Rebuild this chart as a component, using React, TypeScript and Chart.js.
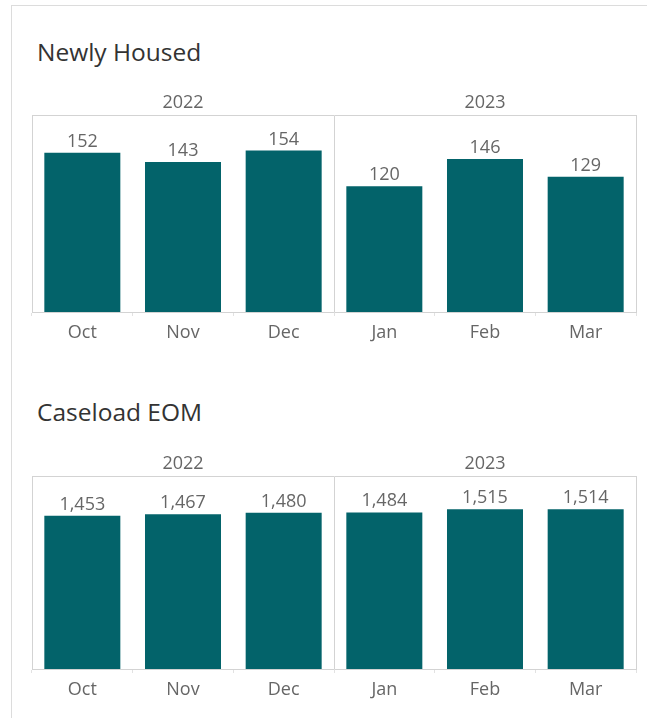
import React, { useEffect, useRef } from "react";
import { Chart, registerables } from "chart.js";

Chart.register(...registerables);

const months = ["Oct", "Nov", "Dec", "Jan", "Feb", "Mar"];
const years = ["2022", "2023"];
const newlyHoused = [152, 143, 154, 120, 146, 129];
const caseloadEOM = [1453, 1467, 1480, 1484, 1515, 1514];
const newlyHousedMax = 187;
const caseloadMax = 1820;

const FAMILY = "'Open Sans', sans-serif";
const BAR = "#03636a";
const FRAME = "#d3d3d3";
const TICK = "#e2e2e2";
const TEXT = "#666666";
const TITLE = "#333333";

const valueLabels = {
  id: "valueLabels",
  afterDatasetsDraw(chart: any) {
    const ctx = chart.ctx;
    ctx.save();
    ctx.font = `18px ${FAMILY}`;
    ctx.fillStyle = TEXT;
    ctx.textAlign = "center";
    ctx.textBaseline = "alphabetic";
    const meta = chart.getDatasetMeta(0);
    const data = chart.data.datasets[0].data as number[];
    meta.data.forEach((el: any, i: number) => {
      ctx.fillText(data[i].toLocaleString("en-US"), el.x, el.y - 6);
    });
    ctx.restore();
  },
};

function BarPanel(props: {
  values: number[];
  max: number;
  top: number;
  height: number;
}) {
  const ref = useRef<HTMLCanvasElement>(null);
  useEffect(() => {
    if (!ref.current) return;
    const chart = new Chart(ref.current, {
      type: "bar",
      data: {
        labels: months,
        datasets: [
          {
            data: props.values,
            backgroundColor: BAR,
            borderWidth: 0,
            categoryPercentage: 1,
            barPercentage: 0.755,
          },
        ],
      },
      options: {
        animation: false,
        responsive: false,
        maintainAspectRatio: false,
        events: [],
        layout: { padding: { left: 32, right: 11, top: 0.4, bottom: 0.4 } },
        plugins: {
          legend: { display: false },
          tooltip: { enabled: false },
          title: { display: false },
        },
        scales: {
          x: {
            type: "category",
            position: "bottom",
            offset: true,
            grid: {
              offset: true,
              drawOnChartArea: false,
              drawTicks: true,
              tickLength: 4,
              color: TICK,
            },
            border: { display: true, color: FRAME, width: 1 },
            ticks: {
              padding: 6,
              color: TEXT,
              font: { family: FAMILY, size: 18 },
              maxRotation: 0,
              autoSkip: false,
            },
          },
          x2: {
            type: "category",
            position: "top",
            labels: years,
            offset: true,
            grid: {
              offset: true,
              drawOnChartArea: true,
              drawTicks: false,
              color: FRAME,
            },
            border: { display: true, color: FRAME, width: 1 },
            ticks: {
              padding: 2,
              color: TEXT,
              font: { family: FAMILY, size: 18 },
              maxRotation: 0,
            },
          },
          y: {
            display: false,
            min: 0,
            max: props.max,
          },
        },
      } as any,
      plugins: [valueLabels],
    });
    return () => chart.destroy();
  }, []);
  return (
    <canvas
      ref={ref}
      width={647}
      height={props.height}
      style={{
        position: "absolute",
        left: 0,
        top: props.top,
        width: 647,
        height: props.height,
      }}
    />
  );
}

const titleStyle: React.CSSProperties = {
  position: "absolute",
  left: 37,
  fontFamily: FAMILY,
  fontSize: 24.5,
  lineHeight: "30px",
  color: TITLE,
  whiteSpace: "nowrap",
};

export default function App() {
  return (
    <div
      style={{
        position: "fixed",
        left: 0,
        top: 0,
        width: 647,
        height: 718,
        background: "#ffffff",
        overflow: "hidden",
      }}
    >
      <div
        style={{
          position: "absolute",
          left: 11,
          top: 5,
          width: 700,
          height: 800,
          borderTop: "1px solid #dcdcdc",
          borderLeft: "1px solid #dcdcdc",
        }}
      />
      <div style={{ ...titleStyle, top: 37 }}>Newly Housed</div>
      <BarPanel values={newlyHoused} max={newlyHousedMax} top={90} height={260} />
      <div style={{ ...titleStyle, top: 397 }}>Caseload EOM</div>
      <BarPanel values={caseloadEOM} max={caseloadMax} top={451} height={256} />
    </div>
  );
}
